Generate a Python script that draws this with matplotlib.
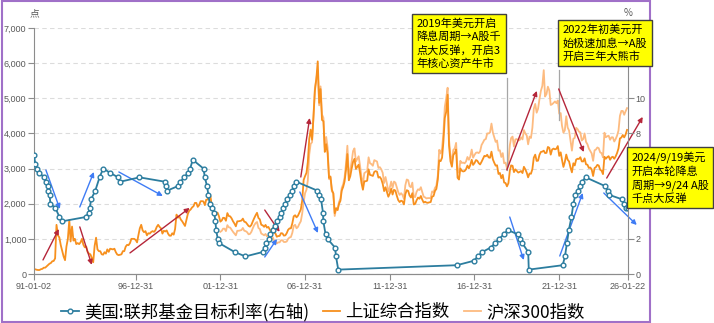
import matplotlib.pyplot as plt
from matplotlib.patches import Rectangle
from matplotlib.ticker import FuncFormatter
import pandas as pd

plt.rcParams['font.family'] = ['Noto Sans CJK SC', 'DejaVu Sans']

# 上证综合指数, monthly, 1991-01 .. 2026-01
sse = [
    129, 133, 120, 113, 114, 137, 146, 180, 180, 218, 259, 292,
    313, 364, 370, 445, 1400, 1100, 1040, 820, 660, 500, 393, 780,
    1000, 1536, 925, 1350, 950, 1000, 850, 880, 850, 900, 1000, 833,
    760, 780, 630, 580, 560, 460, 333, 800, 1033, 700, 650, 648,
    560, 550, 620, 580, 700, 630, 720, 710, 700, 720, 620, 555,
    537, 550, 560, 650, 650, 780, 830, 820, 880, 1000, 1000, 1000,
    970, 900, 1100, 1300, 1400, 1240, 1190, 1220, 1100, 1160, 1150, 1194,
    1220, 1200, 1240, 1340, 1400, 1340, 1300, 1150, 1230, 1210, 1240, 1147,
    1090, 1090, 1160, 1120, 1280, 1690, 1600, 1640, 1550, 1500, 1430, 1367,
    1535, 1715, 1800, 1836, 1894, 1928, 2023, 2022, 1910, 1961, 2070, 2073,
    2065, 1960, 2112, 2119, 2214, 2218, 1920, 1834, 1729, 1690, 1747, 1646,
    1490, 1525, 1600, 1594, 1515, 1733, 1650, 1640, 1582, 1500, 1435, 1357,
    1500, 1500, 1510, 1521, 1576, 1487, 1476, 1421, 1367, 1348, 1397, 1497,
    1590, 1675, 1742, 1595, 1555, 1400, 1386, 1342, 1396, 1320, 1340, 1266,
    1191, 1306, 1181, 1159, 1060, 1080, 1083, 1162, 1155, 1092, 1099, 1161,
    1258, 1299, 1298, 1440, 1641, 1672, 1612, 1658, 1752, 1837, 2099, 2675,
    2786, 2881, 3183, 3841, 4109, 3821, 4471, 5218, 5552, 6050, 4871, 5262,
    4383, 4348, 3473, 3693, 3433, 2736, 2775, 2397, 2293, 1729, 1871, 1821,
    1991, 2082, 2373, 2477, 2632, 2959, 3412, 2667, 2779, 2996, 3195, 3277,
    2989, 3051, 3110, 2870, 2592, 2398, 2638, 2639, 2656, 2979, 2820, 2808,
    2790, 2905, 2928, 2911, 2743, 2762, 2701, 2568, 2359, 2468, 2333, 2199,
    2292, 2428, 2262, 2396, 2373, 2225, 2103, 2047, 2086, 2069, 1980, 2269,
    2385, 2365, 2236, 2177, 2300, 1979, 1994, 2098, 2175, 2141, 2220, 2116,
    2033, 2056, 2033, 2026, 2039, 2048, 2202, 2217, 2364, 2420, 2683, 3235,
    3210, 3310, 3748, 4442, 4612, 5100, 3664, 3206, 3053, 3383, 3445, 3539,
    2738, 2688, 3004, 2938, 2917, 2930, 2979, 3085, 3005, 3100, 3250, 3104,
    3159, 3242, 3223, 3155, 3117, 3192, 3273, 3361, 3349, 3393, 3317, 3307,
    3481, 3259, 3169, 3082, 3095, 2847, 2876, 2725, 2821, 2603, 2588, 2494,
    2585, 2941, 3091, 3078, 2899, 2979, 2932, 2886, 2905, 2929, 2872, 3050,
    2977, 2880, 2750, 2860, 2852, 2985, 3310, 3396, 3218, 3225, 3392, 3473,
    3483, 3509, 3441, 3447, 3615, 3591, 3397, 3544, 3568, 3547, 3564, 3640,
    3361, 3462, 3252, 3047, 3186, 3399, 3253, 3202, 3024, 2893, 3151, 3089,
    3256, 3280, 3273, 3323, 3205, 3202, 3291, 3120, 3110, 3018, 3030, 2975,
    2789, 3015, 3041, 3105, 3087, 2967, 2939, 2842, 3336, 3279, 3326, 3352,
    3250, 3321, 3336, 3279, 3347, 3444, 3573, 3858, 3883, 3955, 3888, 3969,
    4100,
]

# 沪深300指数, monthly, 2002-01 .. 2026-01
csi300 = [
    1200, 1230, 1290, 1290, 1220, 1390, 1330, 1320, 1260, 1200, 1150, 1100,
    1230, 1230, 1240, 1250, 1310, 1230, 1220, 1190, 1130, 1140, 1200, 1300,
    1390, 1450, 1480, 1310, 1280, 1150, 1130, 1100, 1140, 1070, 1080, 1000,
    960, 1050, 960, 950, 870, 900, 900, 960, 960, 910, 910, 924,
    1000, 1040, 1050, 1170, 1370, 1400, 1300, 1340, 1430, 1500, 1730, 2042,
    2300, 2400, 2660, 3400, 3700, 3750, 4470, 5300, 5550, 5800, 4800, 5338,
    4540, 4440, 3600, 3900, 3600, 2700, 2750, 2350, 2300, 1650, 1870, 1817,
    2050, 2140, 2450, 2550, 2740, 3140, 3650, 2830, 2940, 3200, 3500, 3575,
    3200, 3280, 3350, 3070, 2760, 2560, 2870, 2900, 2930, 3320, 3150, 3128,
    3080, 3240, 3220, 3200, 3020, 3040, 2980, 2880, 2590, 2760, 2570, 2346,
    2460, 2630, 2450, 2630, 2600, 2460, 2330, 2250, 2300, 2250, 2140, 2523,
    2690, 2670, 2500, 2470, 2600, 2200, 2190, 2340, 2410, 2390, 2470, 2330,
    2200, 2180, 2150, 2160, 2160, 2160, 2350, 2330, 2450, 2510, 2800, 3533,
    3430, 3570, 3990, 4750, 5000, 5300, 3820, 3370, 3200, 3530, 3570, 3731,
    2950, 2880, 3220, 3160, 3170, 3150, 3200, 3330, 3250, 3340, 3540, 3310,
    3390, 3450, 3460, 3440, 3490, 3670, 3740, 3820, 3840, 4000, 4000, 4030,
    4280, 4020, 3900, 3760, 3800, 3510, 3520, 3330, 3440, 3150, 3170, 3010,
    3200, 3670, 3870, 3910, 3630, 3830, 3840, 3800, 3810, 3890, 3830, 4096,
    4000, 3940, 3690, 3910, 3870, 4160, 4700, 4840, 4590, 4700, 4980, 5211,
    5350, 5800, 5050, 5120, 5330, 5220, 4810, 4830, 4870, 4910, 4860, 4940,
    4560, 4580, 4220, 4020, 4090, 4490, 4170, 4080, 3800, 3510, 3850, 3872,
    4160, 4120, 4050, 4030, 3800, 3840, 4000, 3760, 3690, 3570, 3500, 3431,
    3220, 3520, 3540, 3600, 3580, 3460, 3440, 3320, 4020, 3890, 3920, 3935,
    3820, 3890, 3890, 3770, 3840, 3940, 4080, 4500, 4640, 4640, 4530, 4630,
    4720,
]

# 美国:联邦基金目标利率 (%), one point per change
fed_dates = [
    "1991-01-02", "1991-02-01", "1991-03-08", "1991-04-30", "1991-08-06",
    "1991-09-13", "1991-10-31", "1991-11-06", "1991-12-06", "1991-12-20",
    "1992-04-09", "1992-07-02", "1992-09-04", "1994-02-04", "1994-03-22",
    "1994-04-18", "1994-05-17", "1994-08-16", "1994-11-15", "1995-02-01",
    "1995-07-06", "1995-12-19", "1996-01-31", "1997-03-25", "1998-09-29",
    "1998-10-15", "1998-11-17", "1999-06-30", "1999-08-24", "1999-11-16",
    "2000-02-02", "2000-03-21", "2000-05-16", "2001-01-03", "2001-01-31",
    "2001-03-20", "2001-04-18", "2001-05-15", "2001-06-27", "2001-08-21",
    "2001-09-17", "2001-10-02", "2001-11-06", "2001-12-11", "2002-11-06",
    "2003-06-25", "2004-06-30", "2004-08-10", "2004-09-21", "2004-11-10",
    "2004-12-14", "2005-02-02", "2005-03-22", "2005-05-03", "2005-06-30",
    "2005-08-09", "2005-09-20", "2005-11-01", "2005-12-13", "2006-01-31",
    "2006-03-28", "2006-05-10", "2006-06-29", "2007-09-18", "2007-10-31",
    "2007-12-11", "2008-01-22", "2008-01-30", "2008-03-18", "2008-04-30",
    "2008-10-08", "2008-10-29", "2008-12-16", "2015-12-16", "2016-12-14",
    "2017-03-15", "2017-06-14", "2017-12-13", "2018-03-21", "2018-06-13",
    "2018-09-26", "2018-12-19", "2019-07-31", "2019-09-18", "2019-10-30",
    "2020-03-03", "2020-03-15", "2022-03-16", "2022-05-04", "2022-06-15",
    "2022-07-27", "2022-09-21", "2022-11-02", "2022-12-14", "2023-02-01",
    "2023-03-22", "2023-05-03", "2023-07-26", "2024-09-18", "2024-11-07",
    "2024-12-18", "2025-09-17", "2025-10-29", "2025-12-10", "2026-01-22",
]
fed_rate = [
    6.75, 6.25, 6.00, 5.75, 5.50,
    5.25, 5.00, 4.75, 4.50, 4.00,
    3.75, 3.25, 3.00, 3.25, 3.50,
    3.75, 4.25, 4.75, 5.50, 6.00,
    5.75, 5.50, 5.25, 5.50, 5.25,
    5.00, 4.75, 5.00, 5.25, 5.50,
    5.75, 6.00, 6.50, 6.00, 5.50,
    5.00, 4.50, 4.00, 3.75, 3.50,
    3.00, 2.50, 2.00, 1.75, 1.25,
    1.00, 1.25, 1.50, 1.75, 2.00,
    2.25, 2.50, 2.75, 3.00, 3.25,
    3.50, 3.75, 4.00, 4.25, 4.50,
    4.75, 5.00, 5.25, 4.75, 4.50,
    4.25, 3.50, 3.00, 2.25, 2.00,
    1.50, 1.00, 0.25, 0.50, 0.75,
    1.00, 1.25, 1.50, 1.75, 2.00,
    2.25, 2.50, 2.25, 2.00, 1.75,
    1.25, 0.25, 0.50, 1.00, 1.75,
    2.50, 3.25, 4.00, 4.50, 4.75,
    5.00, 5.25, 5.50, 5.00, 4.75,
    4.50, 4.25, 4.00, 3.75, 3.75,
]

x_ticks = ["1991-01-02", "1996-12-31", "2001-12-31", "2006-12-31",
           "2011-12-31", "2016-12-31", "2021-12-31", "2026-01-22"]
# right-axis labels; the ones sitting under the note boxes stay blank
rate_ticks = [0, 2, 4, 6, 8, 10, 12, 14]
rate_labels = ["0", "2", "", "", "8", "10", "", ""]

# trend arrows, (start, end) as (date, 点)
red_arrows = [
    (("1991-07-15", 400), ("1992-06-20", 1280)),
    (("1993-09-15", 1340), ("1994-06-01", 260)),
    (("1996-09-01", 600), ("2000-03-10", 1880)),
    (("2004-08-15", 1820), ("2005-07-01", 1200)),
    (("2006-10-01", 2760), ("2007-04-10", 4440)),
    (("2018-11-27", 2960), ("2020-09-05", 5210)),
    (("2021-12-20", 5265), ("2023-06-13", 3470)),
    (("2024-10-20", 2730), ("2026-12-05", 4470)),
]
blue_arrows = [
    (("1991-09-15", 2960), ("1992-07-12", 1850)),
    (("1993-09-15", 1907), ("1994-07-15", 2903)),
    (("1996-01-05", 2903), ("1998-08-10", 2220)),
    (("2004-08-15", 484), ("2005-05-05", 996)),
    (("2006-09-10", 2334), ("2007-10-05", 1167)),
    (("2019-01-30", 1622), ("2019-11-28", 398)),
    (("2022-01-12", 512), ("2023-05-22", 2305)),
    (("2024-08-18", 2305), ("2026-07-30", 1395)),
]

notes = [
    "2019年美元开启\n降息周期→A股千\n点大反弹，开启3\n年核心资产牛市",
    "2022年初美元开\n始极速加息→A股\n开启三年大熊市",
    "2024/9/19美元\n开启本轮降息\n周期→9/24 A股\n千点大反弹",
]

sse_dates = pd.date_range("1991-01-01", periods=len(sse), freq="MS")
csi_dates = pd.date_range("2002-01-01", periods=len(csi300), freq="MS")
fed_x = pd.to_datetime(fed_dates)

W, H = 714, 323
fig = plt.figure(figsize=(W / 100, H / 100), dpi=100)
ax = fig.add_axes([34 / W, 1 - 274 / H, (628 - 34) / W, (274 - 28) / H])
ax2 = ax.twinx()

grey = "#8c8c8c"
tick_txt = "#595959"

l_csi, = ax.plot(csi_dates, csi300, color="#fdbb80", lw=1.3, label="沪深300指数")
l_sse, = ax.plot(sse_dates, sse, color="#f7901e", lw=1.3, label="上证综合指数")
l_fed, = ax2.plot(fed_x, fed_rate, color="#2c7d9f", lw=1.3, marker="o", ms=3.4,
                  mfc="white", mew=1.0, label="美国:联邦基金目标利率(右轴)")

ax.set_xlim(pd.Timestamp("1991-01-02"), pd.Timestamp("2026-01-22"))
ax.set_ylim(0, 7000)
ax2.set_ylim(0, 14)
ax.set_yticks(range(0, 7001, 1000))
ax2.set_yticks(rate_ticks)
ax2.set_yticklabels(rate_labels)
ax.yaxis.set_major_formatter(FuncFormatter(lambda v, p: f"{int(v):,}"))

tick_pos = pd.to_datetime(x_ticks)
ax.set_xticks(tick_pos)
ax.set_xticklabels([d.strftime("%y-%m-%d") for d in tick_pos])

ax.yaxis.grid(True, ls=(0, (4, 3)), color="#dcdcdc", lw=0.8)
ax.set_axisbelow(True)

for a in (ax, ax2):
    a.spines["top"].set_visible(False)
    for s in a.spines.values():
        s.set_color(grey)
    a.tick_params(length=4, width=0.8, color=grey, labelsize=6.5,
                  labelcolor=tick_txt, pad=1.5)
    for lab in a.get_xticklabels() + a.get_yticklabels():
        lab.set_family(["Liberation Sans", "DejaVu Sans"])
ax.spines["right"].set_visible(False)
ax2.spines["left"].set_visible(False)

ax.text(0, 1.061, "点", transform=ax.transAxes, ha="center", va="center",
        fontsize=7, color=tick_txt)
ax.text(1, 1.061, "%", transform=ax.transAxes, ha="center", va="center",
        fontsize=7, color=tick_txt)

def draw_arrows(arrows, color):
    for (d0, v0), (d1, v1) in arrows:
        ax.annotate("", xy=(pd.Timestamp(d1), v1), xytext=(pd.Timestamp(d0), v0),
                    annotation_clip=False,
                    arrowprops=dict(arrowstyle="-|>", color=color, lw=1.0,
                                    mutation_scale=7, shrinkA=0, shrinkB=0))

draw_arrows(red_arrows, "#b5263a")
draw_arrows(blue_arrows, "#3f7cf5")

# callout lines under the first two notes
ax.plot([pd.Timestamp("2018-11-27")] * 2, [5578, 2960], color="#a6a6a6", lw=0.9)
ax.plot([pd.Timestamp("2021-12-20")] * 2, [5806, 4380], color="#a6a6a6", lw=0.9)

box = dict(boxstyle="square,pad=0.4", fc="#ffff00", ec="#404040", lw=1.0)
for txt, (px, py) in zip(notes, [(416.5, 18.5), (562.5, 24.5), (631.5, 151.5)]):
    fig.text(px / W, 1 - py / H, txt, ha="left", va="top", fontsize=8,
             linespacing=1.3, bbox=box, zorder=10)

fig.patches.append(Rectangle((2 / W, 1 / H), 648 / W, 321 / H, transform=fig.transFigure,
                             fill=False, ec="#a070c8", lw=1.5, zorder=5))

fig.legend([l_fed, l_sse, l_csi], [l_fed.get_label(), l_sse.get_label(), l_csi.get_label()],
           loc="center", bbox_to_anchor=(323 / W, 1 - 312 / H), ncol=3, frameon=False,
           fontsize=12.5, handlelength=1.0, handletextpad=0.3, columnspacing=0.8,
           borderpad=0)

fig.savefig("out.png", dpi=100)
